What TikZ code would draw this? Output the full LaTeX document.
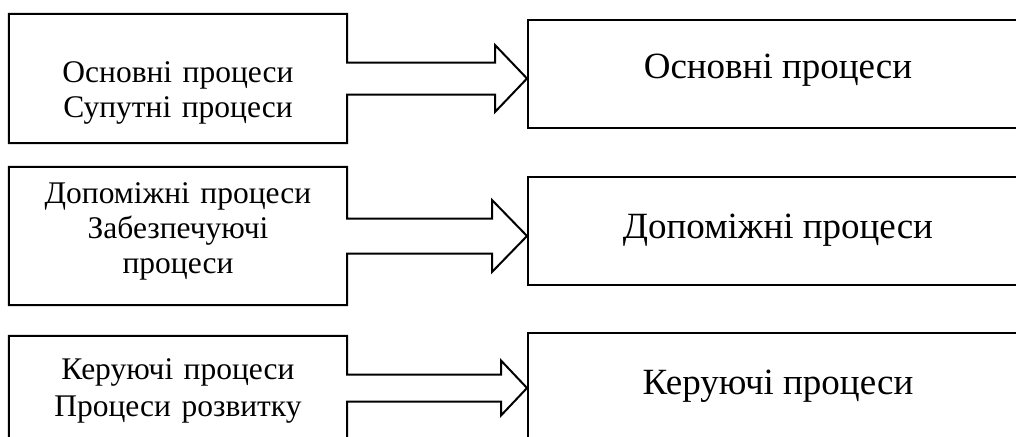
\documentclass[tikz,border=0pt]{standalone}
\usepackage{fontspec}
\setmainfont{Liberation Serif}
\usetikzlibrary{calc}
% Outline of a source box merged with a block arrow that runs to the target box.
% #1 source node, #2 target node, #3 half shaft width, #4 half head width, #5 head length
\newcommand\boxarrow[5]{%
  \draw[outline]
    ($(#1.east)+(0,-#3)$) -- (#1.north east) -- (#1.north west)
    -- (#1.south west) -- (#1.south east) -- ($(#1.east)+(0,#3)$)
    -- ($(#2.west|-#1.east)+(-#5,#3)$) -- ($(#2.west|-#1.east)+(-#5,#4)$)
    -- (#2.west|-#1.east)
    -- ($(#2.west|-#1.east)+(-#5,-#4)$) -- ($(#2.west|-#1.east)+(-#5,-#3)$)
    -- cycle;}
\begin{document}
\begin{tikzpicture}[x=1pt,y=-1pt,
  srcbox/.style={minimum width=338pt, inner sep=0pt},
  srctext/.style={anchor=base, inner sep=0pt, text width=330pt, align=center,
    font=\fontsize{31.5}{35}\selectfont},
  dstbox/.style={draw, line width=2pt, minimum width=500pt, minimum height=108pt,
    inner sep=0pt},
  dsttext/.style={anchor=base, inner sep=0pt, font=\fontsize{37}{42}\selectfont},
  outline/.style={line width=2pt, line join=miter}]
\useasboundingbox (0,0) rectangle (1016,436);
\clip (0,0) rectangle (1016,436);

% process groups on the left
\node[srcbox, minimum height=129pt] (s1) at (178,78.5) {};
\node[srcbox, minimum height=138pt] (s2) at (178,236) {};
\node[srcbox, minimum height=104pt] (s3) at (178,388) {};
\node[srctext] (s1txt) at (178,82) {Основні процеси\\Супутні процеси};
\node[srctext] (s2txt) at (178,203) {Допоміжні процеси\\Забезпечуючі\\процеси};
\node[srctext, font=\fontsize{31.5}{37}\selectfont] (s3txt) at (178,379) {Керуючі процеси\\Процеси розвитку};

% resulting process classes on the right
\node[dstbox] (t1) at (778,74) {};
\node[dstbox] (t2) at (778,231) {};
\node[dstbox] (t3) at (778,387) {};
\node[dsttext] (t1txt) at (778,78) {Основні процеси};
\node[dsttext] (t2txt) at (778,238) {Допоміжні процеси};
\node[dsttext] (t3txt) at (778,394) {Керуючі процеси};

\boxarrow{s1}{t1}{16}{33.5}{32}
\boxarrow{s2}{t2}{17.5}{36}{35}
\boxarrow{s3}{t3}{13.5}{27.5}{26}
\end{tikzpicture}
\end{document}
